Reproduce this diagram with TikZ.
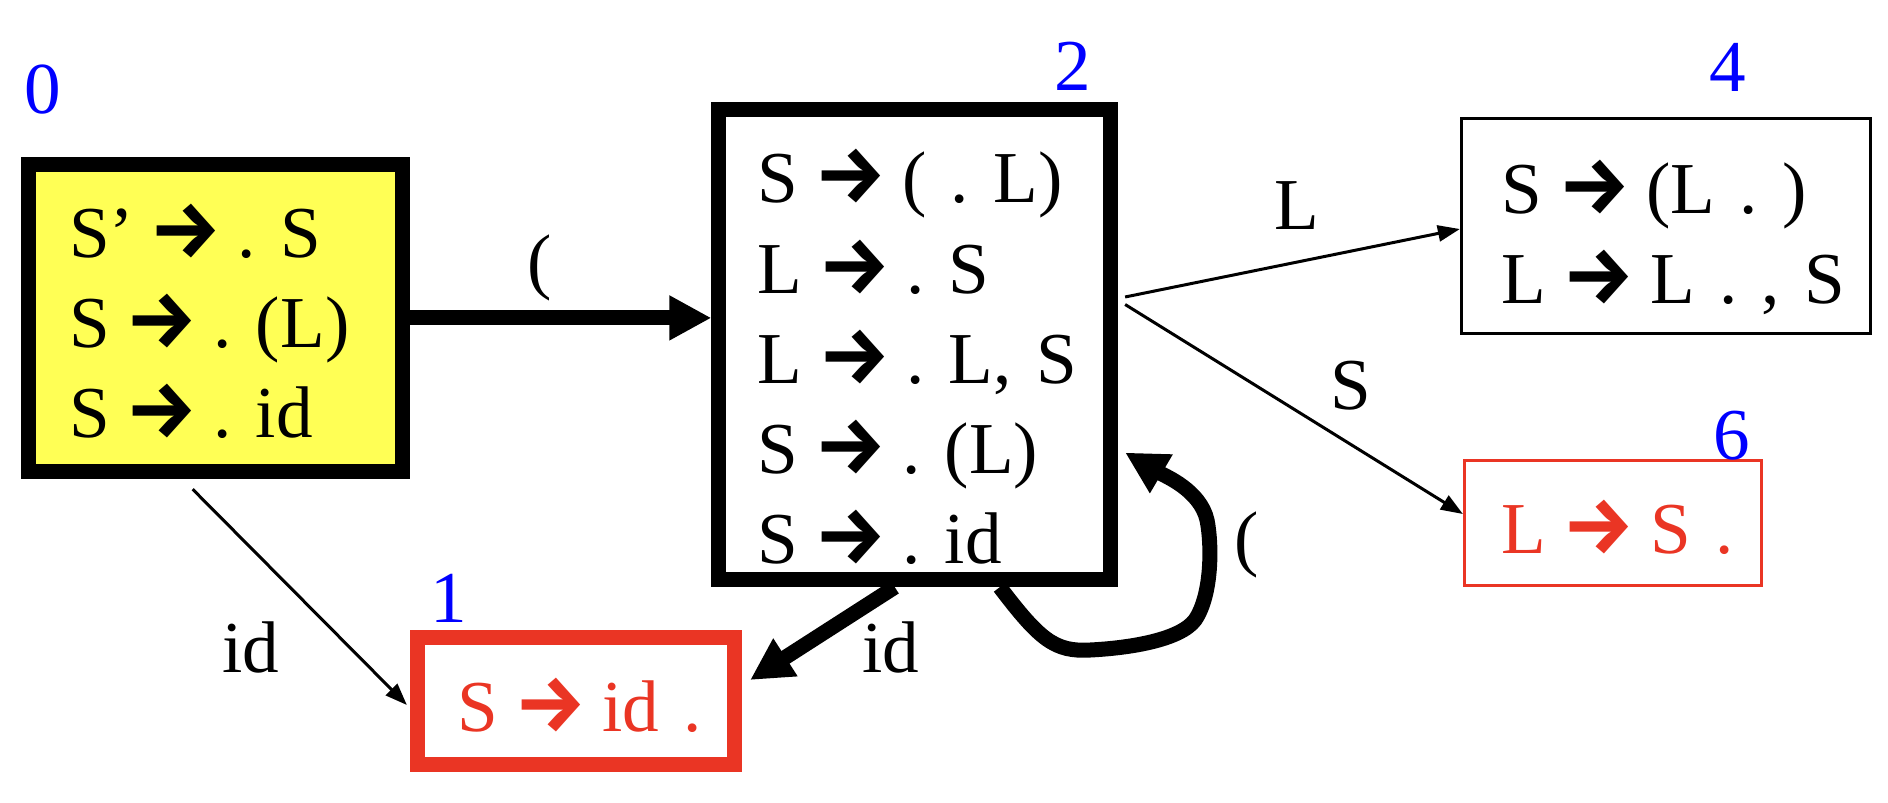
\documentclass[tikz,border=0pt]{standalone}
\usepackage{fontspec}
\usepackage{graphicx}
\setmainfont{Liberation Serif}
\newfontfamily\arrowfont{Fira Sans}
\usetikzlibrary{arrows.meta}
\definecolor{redc}{RGB}{234,53,36}
\definecolor{bluec}{RGB}{0,0,255}
\definecolor{yellowc}{RGB}{255,255,85}
\newcommand\ra{\hspace{-0.12em}\scalebox{1.1}{\arrowfont\bfseries →}\hspace{-0.12em}}
\newcommand\topstrut[1]{\rule{0pt}{#1}}
\newcommand\botstrut[1]{\rule[-#1]{0pt}{#1}}
\frenchspacing
\begin{document}
\begin{tikzpicture}[x=0.01cm,y=-0.01cm,
  every node/.style={font=\fontsize{20.8pt}{25.6pt}\selectfont\frenchspacing},
  stbox/.style={rectangle, draw, inner xsep=0pt, inner ysep=0pt, align=left},
  heavy/.style={line width=0.15cm},
  light/.style={line width=0.03cm},
  lbl/.style={text=bluec, inner sep=0pt},
  elbl/.style={inner sep=0pt},
  thickarr/.style={line width=0.15cm, -{Triangle[length=0.42cm,width=0.42cm]}},
  thinarr/.style={line width=0.03cm, -{Triangle[length=0.22cm,width=0.16cm]}}
]
\useasboundingbox (0,0) rectangle (1888,802);

% states
\node[stbox, heavy, fill=yellowc, minimum width=3.73cm, minimum height=3.073cm, text width=2.93cm]
  (s0) at (215.6,317.9)
  {\topstrut{0.72cm}\mbox{S’ \ra{} . S}\\\mbox{S \ra{} . (L)}\\\mbox{S \ra{} . id}\botstrut{0.12cm}};
\node[stbox, heavy, minimum width=3.915cm, minimum height=4.70cm, text width=3.135cm]
  (s2) at (914.75,344.5)
  {\topstrut{0.89cm}\mbox{S \ra{} ( . L)}\\\mbox{L \ra{} . S}\\\mbox{L \ra{} . L, S}\\\mbox{S \ra{} . (L)}\\\mbox{S \ra{} . id}\botstrut{0.12cm}};
\node[stbox, heavy, draw=redc, text=redc, minimum width=3.17cm, minimum height=1.27cm, text width=2.36cm]
  (s1) at (576,701)
  {\topstrut{0.72cm}\mbox{S \ra{} id .}\botstrut{0.12cm}};
\node[stbox, light, minimum width=4.09cm, minimum height=2.15cm, text width=3.28cm]
  (s4) at (1666,226)
  {\topstrut{0.76cm}\mbox{S \ra{} (L . )}\\\mbox{L \ra{} L . , S}\botstrut{0.12cm}};
\node[stbox, light, draw=redc, text=redc, minimum width=2.97cm, minimum height=1.25cm, text width=2.22cm]
  (s6) at (1613,523)
  {\topstrut{0.72cm}\mbox{L \ra{} S .}\botstrut{0.12cm}};

% state numbers
\node[lbl] (l0) at (43,90) {0};
\node[lbl] (l2) at (1073,66) {2};
\node[lbl] (l4) at (1728,67) {4};
\node[lbl] (l6) at (1732,436) {6};
\node[lbl] (l1) at (449,598) {1};

% edge labels
\node[elbl] (e02) at (540,268) {(};
\node[elbl] (e01) at (251,647) {id};
\node[elbl] (e21) at (891,647) {id};
\node[elbl] (e22) at (1247,545) {(};
\node[elbl] (e24) at (1297,206) {L};
\node[elbl] (e26) at (1351,386) {S};

% connectors
\draw[thickarr] (s0.east) -- (s0.east -| s2.west);
\draw[thinarr] ([xshift=-0.23cm,yshift=-0.1cm]s0.south) -- ([xshift=-0.03cm,yshift=-0.04cm]s1.west);
\draw[thickarr] ([xshift=-0.2cm]s2.south) -- ([xshift=0.08cm,yshift=0.21cm]s1.east);
\draw[thickarr] ([xshift=0.85cm]s2.south)
  .. controls (1040,640) and (1055,652) .. (1090,650)
  .. controls (1130,648) and (1180,640) .. (1195,620)
  .. controls (1212,595) and (1212,545) .. (1207,520)
  .. controls (1200,490) and (1165,476) .. ([xshift=0.07cm,yshift=-1.08cm]s2.east);
\draw[thinarr] ([xshift=0.07cm,yshift=0.475cm]s2.east) -- ([yshift=-0.03cm]s4.west);
\draw[thinarr] ([xshift=0.07cm,yshift=0.40cm]s2.east) -- ([yshift=0.09cm]s6.west);
\end{tikzpicture}
\end{document}
